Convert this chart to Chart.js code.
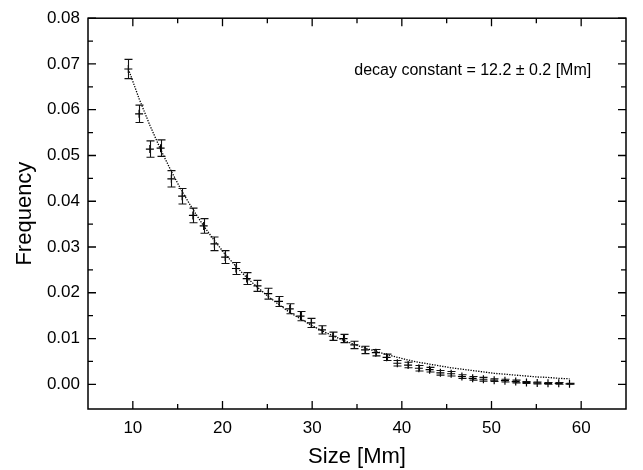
<!DOCTYPE html>
<html>
<head>
<meta charset="utf-8">
<script src="https://cdn.jsdelivr.net/npm/chart.js@4/dist/chart.umd.min.js"></script>
<style>
  html, body { margin: 0; padding: 0; background: #fff; }
  #wrap { width: 643px; height: 470px; }
</style>
</head>
<body>
<div id="wrap"><canvas id="c" width="643" height="470"></canvas></div>
<script>
// ---- data ----
const sizes = [9.5, 10.7, 11.9, 13.1, 14.3, 15.5, 16.7, 17.9, 19.1, 20.3, 21.5, 22.7, 23.9, 25.1,
  26.3, 27.5, 28.7, 29.9, 31.1, 32.3, 33.5, 34.7, 35.9, 37.1, 38.3, 39.5, 40.7, 41.9, 43.1, 44.3,
  45.5, 46.7, 47.9, 49.1, 50.3, 51.5, 52.7, 53.9, 55.1, 56.3, 57.5, 58.7];
const frequency = [0.0689, 0.0591, 0.0514, 0.0516, 0.0449, 0.0411, 0.0369, 0.0346, 0.0307, 0.0278,
  0.0253, 0.0231, 0.0215, 0.0198, 0.0181, 0.0165, 0.0149, 0.0134, 0.0119, 0.0105, 0.0100, 0.0086,
  0.0075, 0.0069, 0.0059, 0.0046, 0.0042, 0.0035, 0.0032, 0.0025, 0.0023, 0.0017, 0.0013, 0.0011,
  0.0009, 0.0008, 0.0006, 0.0004, 0.0003, 0.0002, 0.0002, 0.0001];
const frequencyErr = [0.0021, 0.0019, 0.0018, 0.0018, 0.0018, 0.0017, 0.0016, 0.0016, 0.0015, 0.0014,
  0.0013, 0.0013, 0.0012, 0.0012, 0.0011, 0.0011, 0.0010, 0.0010, 0.0009, 0.0009, 0.0009, 0.0008,
  0.0008, 0.0007, 0.0007, 0.0006, 0.0006, 0.0006, 0.0005, 0.0005, 0.0005, 0.0004, 0.0004, 0.0004,
  0.0003, 0.0003, 0.0003, 0.0002, 0.0002, 0.0002, 0.0002, 0.0001];
const fitValues = [0.0689, 0.0624, 0.0566, 0.0513, 0.0465, 0.0421, 0.0382, 0.0346, 0.0314, 0.0284,
  0.0258, 0.0233, 0.0212, 0.0192, 0.0174, 0.0157, 0.0143, 0.0129, 0.0117, 0.0106, 0.0096, 0.0087,
  0.0079, 0.0072, 0.0065, 0.0059, 0.0053, 0.0048, 0.0044, 0.0040, 0.0036, 0.0033, 0.0030, 0.0027,
  0.0024, 0.0022, 0.0020, 0.0018, 0.0016, 0.0015, 0.0013, 0.0012];
const xMajorTicks = [10, 20, 30, 40, 50, 60];
const xMinorTicks = [15, 25, 35, 45, 55];
const yMajorTicks = [0.00, 0.01, 0.02, 0.03, 0.04, 0.05, 0.06, 0.07, 0.08];
const yMinorTicks = [0.005, 0.015, 0.025, 0.035, 0.045, 0.055, 0.065, 0.075];
const xTitle = 'Size [Mm]';
const yTitle = 'Frequency';
const annotationText = 'decay constant = 12.2 \u00b1 0.2 [Mm]';
const annotationAt = { x: 34.7, y: 0.0685 };

const FONT = '"Liberation Sans", Arial, sans-serif';

const framePlugin = {
  id: 'frame',
  afterDatasetsDraw(chart) {
    const ctx = chart.ctx;
    const xs = chart.scales.x, ys = chart.scales.y;
    const a = chart.chartArea;
    ctx.save();
    // error bars
    ctx.strokeStyle = '#111';
    ctx.lineWidth = 1.1;
    const cap = 4;
    for (let i = 0; i < sizes.length; i++) {
      const px = Math.round(xs.getPixelForValue(sizes[i])) + 0.5;
      const pt = ys.getPixelForValue(frequency[i] + frequencyErr[i]);
      const pb = ys.getPixelForValue(frequency[i] - frequencyErr[i]);
      ctx.beginPath();
      ctx.moveTo(px, pt); ctx.lineTo(px, pb);
      ctx.moveTo(px - cap, pt); ctx.lineTo(px + cap, pt);
      ctx.moveTo(px - cap, pb); ctx.lineTo(px + cap, pb);
      ctx.stroke();
    }
    // frame
    ctx.strokeStyle = '#000';
    ctx.lineWidth = 1.5;
    ctx.strokeRect(a.left, a.top, a.right - a.left, a.bottom - a.top);
    // ticks (inward, mirrored)
    ctx.lineWidth = 1.3;
    ctx.beginPath();
    const drawX = (vals, len) => vals.forEach(v => {
      const p = xs.getPixelForValue(v);
      ctx.moveTo(p, a.bottom); ctx.lineTo(p, a.bottom - len);
      ctx.moveTo(p, a.top); ctx.lineTo(p, a.top + len);
    });
    const drawY = (vals, len) => vals.forEach(v => {
      const p = ys.getPixelForValue(v);
      ctx.moveTo(a.left, p); ctx.lineTo(a.left + len, p);
      ctx.moveTo(a.right, p); ctx.lineTo(a.right - len, p);
    });
    drawX(xMajorTicks, 8); drawX(xMinorTicks, 5);
    drawY(yMajorTicks, 8); drawY(yMinorTicks, 5);
    ctx.stroke();
    // annotation
    ctx.fillStyle = '#000';
    ctx.font = '16px ' + FONT;
    ctx.textAlign = 'left';
    ctx.textBaseline = 'middle';
    ctx.fillText(annotationText, xs.getPixelForValue(annotationAt.x), ys.getPixelForValue(annotationAt.y));
    ctx.restore();
  }
};

new Chart(document.getElementById('c'), {
  type: 'scatter',
  data: {
    datasets: [
      {
        label: 'fit',
        type: 'line',
        data: sizes.map((x, i) => ({ x: x, y: fitValues[i] })),
        borderColor: '#000',
        borderWidth: 1.3,
        borderDash: [1.3, 1.3],
        pointRadius: 0,
        tension: 0,
        fill: false,
        order: 2
      },
      {
        label: 'data',
        data: sizes.map((x, i) => ({ x: x, y: frequency[i] })),
        pointStyle: 'cross',
        pointRadius: 4,
        pointBorderWidth: 1.2,
        borderColor: '#000',
        backgroundColor: '#000',
        order: 1
      }
    ]
  },
  options: {
    responsive: false,
    devicePixelRatio: 1,
    animation: false,
    layout: { padding: { left: 0, right: 17, top: 13, bottom: 0 } },
    plugins: { legend: { display: false }, tooltip: { enabled: false } },
    scales: {
      x: {
        type: 'linear',
        min: 5, max: 65,
        grid: { display: false, drawTicks: false },
        border: { display: false },
        afterBuildTicks: s => { s.ticks = xMajorTicks.map(v => ({ value: v })); },
        afterFit: s => { s.height = 61; },
        ticks: { color: '#000', font: { family: FONT, size: 17 }, padding: 9, maxRotation: 0,
                 callback: v => String(v) },
        title: { display: true, text: xTitle, color: '#000', font: { family: FONT, size: 22 },
                 padding: { top: 1, bottom: 0 } }
      },
      y: {
        type: 'linear',
        min: -0.0054, max: 0.08,
        grid: { display: false, drawTicks: false },
        border: { display: false },
        afterBuildTicks: s => { s.ticks = yMajorTicks.map(v => ({ value: v })); },
        afterFit: s => { s.width = 88; },
        ticks: { color: '#000', font: { family: FONT, size: 17 }, padding: 8,
                 callback: v => Number(v).toFixed(2) },
        title: { display: true, text: yTitle, color: '#000', font: { family: FONT, size: 22 },
                 padding: { top: 12, bottom: 0 } }
      }
    }
  },
  plugins: [framePlugin]
});
</script>
</body>
</html>
